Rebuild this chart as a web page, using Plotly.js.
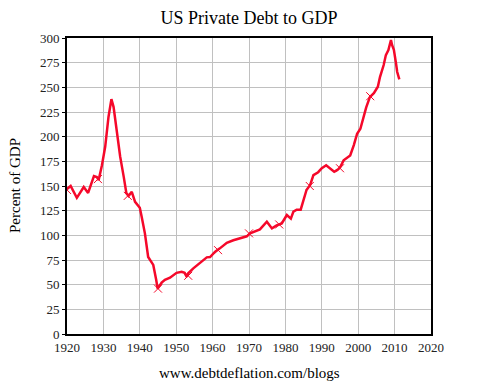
<!DOCTYPE html>
<html>
<head>
<meta charset="utf-8">
<script src="https://cdn.plot.ly/plotly-3.0.1.min.js"></script>
<style>html,body{margin:0;padding:0;background:#fff;}#chart{width:479px;height:384px;}</style>
</head>
<body>
<div id="chart"></div>
<script>
var years = [1920, 1921, 1922.7, 1924.6, 1925.8, 1927.4, 1928.2, 1928.7, 1929.6, 1930.5, 1931.4, 1932.2, 1932.8, 1933.7, 1934.6, 1935.6, 1936.3, 1936.9, 1937.8, 1938.7, 1940, 1940.5, 1941.4, 1942.3, 1943.7, 1944.5, 1944.9, 1946, 1946.9, 1948.3, 1950.1, 1951.5, 1952.3, 1952.9, 1953.3, 1954.7, 1956.5, 1958.4, 1959.3, 1960.7, 1962, 1963.9, 1965.7, 1968, 1969.4, 1970.3, 1971.6, 1973, 1974.9, 1976.3, 1977.6, 1979, 1980.4, 1981.5, 1982.2, 1983.1, 1984.2, 1984.9, 1985.8, 1986.8, 1987.7, 1989, 1990, 1991.2, 1992.3, 1993.4, 1994.5, 1995.1, 1996, 1997.8, 1998.8, 1999.7, 2000.6, 2001.5, 2002.2, 2003.2, 2004.3, 2005.4, 2006, 2007, 2007.6, 2008.3, 2009, 2009.3, 2009.8, 2010.4, 2010.7, 2011.3];
var debtToGdp = [147, 150, 138, 149, 143, 160, 159, 156, 171, 190, 220, 238, 230, 204, 180, 159, 143, 140, 144, 134, 128, 119, 102, 78, 70, 55, 46, 52, 55, 57, 62, 63, 62, 58, 61.5, 66.5, 71.6, 77.7, 78, 83.4, 86.8, 92.5, 95, 97.6, 99, 102, 103.6, 106, 113.8, 107, 110, 112, 120.6, 117, 124, 126, 126, 135.8, 146, 151, 161, 164, 168, 171, 168, 164.4, 167, 169.5, 176, 181, 191.5, 203, 208, 220, 229.7, 240, 244, 250.6, 260.7, 272.6, 282.7, 287.7, 298, 293, 288, 274, 265.8, 258];
var markYears = [1920, 1928.5, 1936.7, 1945, 1953.3, 1961.5, 1970, 1978.3, 1986.7, 1995, 2003.3];
var markVals = [146, 157, 140, 46, 59, 85, 102, 111, 150, 168, 241];
var yTicks = [0, 25, 50, 75, 100, 125, 150, 175, 200, 225, 250, 275, 300];
var xTicks = [1920, 1930, 1940, 1950, 1960, 1970, 1980, 1990, 2000, 2010, 2020];

var red = '#f5082a';
var serif = 'Liberation Serif';

var traces = [
  {x: years, y: debtToGdp, type: 'scatter', mode: 'lines',
   line: {color: red, width: 2.5}, hoverinfo: 'skip', showlegend: false},
  {x: markYears, y: markVals, type: 'scatter', mode: 'markers',
   marker: {symbol: 'x-thin-open', size: 8, color: red, line: {color: red, width: 1}},
   cliponaxis: true, hoverinfo: 'skip', showlegend: false}
];

var layout = {
  width: 479, height: 384,
  margin: {l: 67, r: 48, t: 38, b: 50},
  paper_bgcolor: '#ffffff', plot_bgcolor: '#ffffff',
  font: {family: serif, size: 12, color: '#222'},
  showlegend: false,
  title: {text: 'US Private Debt to GDP', x: 0.5, xref: 'paper', y: 1 - 18/384, yref: 'container', yanchor: 'middle',
          font: {family: serif, size: 18, color: '#000'}},
  xaxis: {range: [1920, 2020], tickvals: xTicks, ticktext: xTicks.map(String),
          showgrid: true, gridcolor: '#c0c0c0', gridwidth: 1,
          showline: true, linecolor: '#000', linewidth: 2, mirror: true,
          ticks: '', zeroline: false,
          tickfont: {family: serif, size: 13, color: '#222'}},
  yaxis: {range: [0, 300], tickvals: yTicks, ticktext: yTicks.map(String),
          showgrid: true, gridcolor: '#c0c0c0', gridwidth: 1,
          showline: true, linecolor: '#000', linewidth: 2, mirror: true,
          ticks: 'outside', ticklen: 3, tickcolor: '#000', zeroline: false,
          tickfont: {family: serif, size: 13, color: '#222'}},
  annotations: [
    {text: 'Percent of GDP', xref: 'paper', yref: 'paper', x: (15 - 67) / 364, y: 0.5,
     xanchor: 'center', yanchor: 'middle', textangle: -90, showarrow: false,
     font: {family: serif, size: 15, color: '#000'}},
    {text: 'www.debtdeflation.com/blogs', xref: 'paper', yref: 'paper', x: 0.5, y: (334 - 373) / 296,
     xanchor: 'center', yanchor: 'middle', showarrow: false,
     font: {family: serif, size: 15, color: '#000'}}
  ]
};

Plotly.newPlot('chart', traces, layout, {displayModeBar: false, staticPlot: true});
</script>
</body>
</html>
